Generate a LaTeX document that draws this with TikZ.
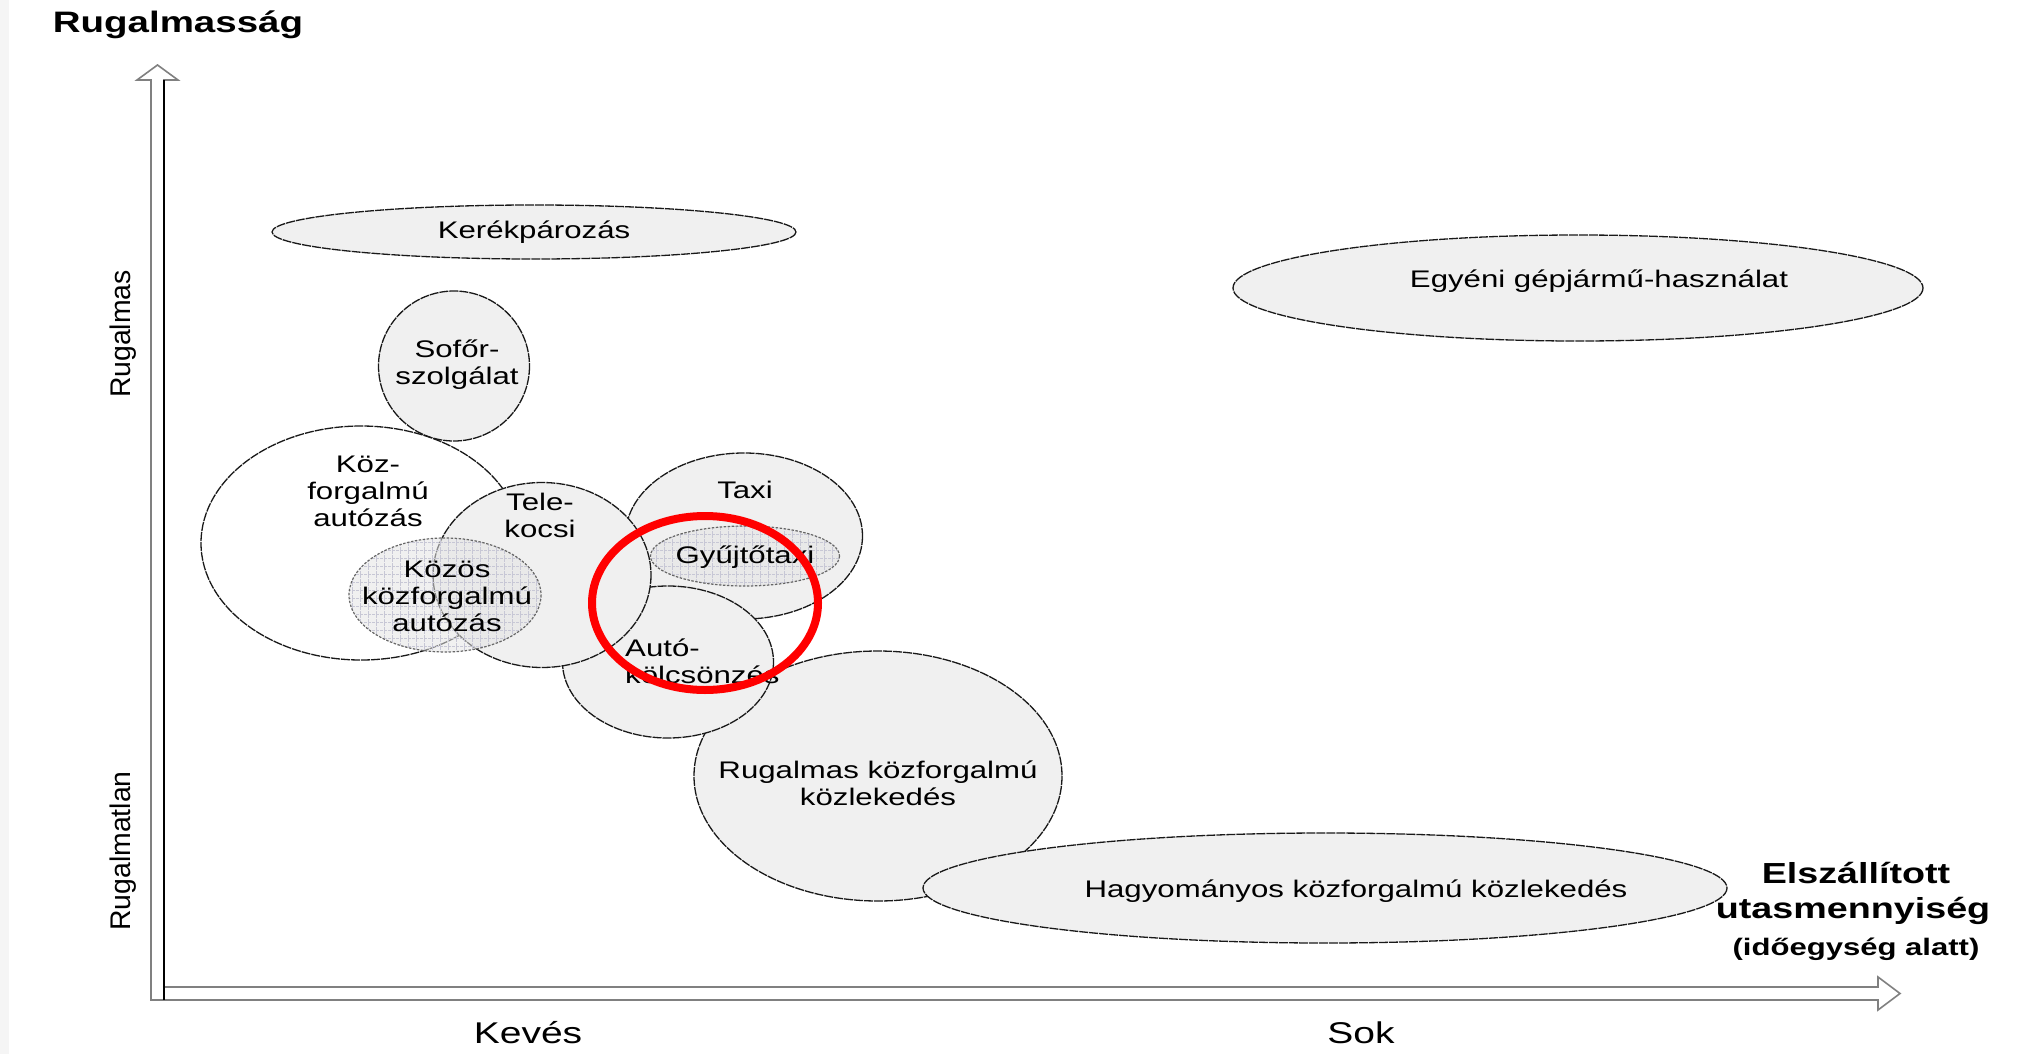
\documentclass[tikz,border=0pt]{standalone}
\usepackage{fontspec}
\setmainfont{Liberation Sans}[FakeStretch=1.3]
\newfontfamily\plainsans{Liberation Sans}
\usetikzlibrary{patterns.meta}
\begin{document}
\begin{tikzpicture}[x=1pt,y=-1pt,line join=round,
  bubble/.style={fill=black!6,draw=black!90,line width=1.3pt,dash pattern=on 9pt off 1pt},
  openbubble/.style={bubble,fill=white},
  gridbubble/.style={draw=black!60,line width=1.2pt,dash pattern=on 2.5pt off 1.5pt,
    preaction={fill=black!10,fill opacity=.55},
    pattern={Hatch[angle=0,distance=8pt,line width=.5pt]},pattern color=blue!25!black!22},
  ring/.style={draw=red,line width=8pt},
  lbl/.style={font=\fontsize{24}{27}\selectfont,align=center,inner sep=0pt},
  axislbl/.style={font=\fontsize{30}{34}\selectfont,anchor=base},
  sidelbl/.style={font=\plainsans\fontsize{28.4}{32}\selectfont,rotate=90,anchor=base},
  headlbl/.style={font=\bfseries\fontsize{29}{34}\selectfont,anchor=base},
  blockarrow/.style={fill=white,draw=black!50,line width=1.6pt,line join=miter}]
  \useasboundingbox (0,0) rectangle (2042,1054);
  \fill[black!4] (0,0) rectangle (9,1054);
  % axes: two hollow block arrows
  \draw[blockarrow] (151,987)--(1878,987)--(1878,977)--(1900,993.5)--(1878,1010)
    --(1878,1000)--(151,1000)--cycle;
  \draw[blockarrow] (151,1000)--(151,80)--(137,80)--(157.5,65)--(178,80)--(164,80)
    --(164,1000)--cycle;
  \draw[black,line width=2pt] (164,80)--(164,1000);
  \node[headlbl,font=\bfseries\fontsize{29.6}{34}\selectfont] (rugalmassag) at (178,33) {Rugalmasság};
  \node[sidelbl] (rugalmas) at (130,334) {Rugalmas};
  \node[sidelbl] (rugalmatlan) at (130,851) {Rugalmatlan};
  \node[axislbl] (keves) at (528,1043) {Kevés};
  \node[axislbl] (sok) at (1361,1043) {Sok};
  \node[headlbl] (elszall) at (1856,883) {Elszállított};
  \node[headlbl] (utas) at (1853,918) {utasmennyiség};
  \node[headlbl,font=\bfseries\fontsize{23.9}{28}\selectfont] (idoegys) at (1856,955) {(időegység alatt)};
  % bubbles, back to front
  \path[bubble] (534,232) ellipse[x radius=262,y radius=27];
  \path[bubble] (1578,288) ellipse[x radius=345,y radius=53];
  \path[bubble] (454,366) ellipse[x radius=75.5,y radius=75];
  \path[openbubble] (361,543) ellipse[x radius=160,y radius=117];
  \path[bubble] (878,776) ellipse[x radius=184,y radius=125];
  \path[bubble] (744,536) ellipse[x radius=118.5,y radius=83];
  \path[bubble] (668,662) ellipse[x radius=105.5,y radius=76];
  \path[bubble] (542,575) ellipse[x radius=109,y radius=92.5];
  \path[gridbubble] (445,595) ellipse[x radius=96,y radius=57];
  \path[gridbubble] (745,556) ellipse[x radius=94.5,y radius=30];
  \path[bubble] (1325,888) ellipse[x radius=402,y radius=55];
  % labels
  \node[lbl] (kerekpar) at (534,232) {Kerékpározás};
  \node[lbl] (egyeni) at (1599,281) {Egyéni gépjármű-használat};
  \node[lbl] (sofor) at (457,365) {Sofőr-\\szolgálat};
  \node[lbl] (kozforg) at (368,491) {Köz-\\forgalmú\\autózás};
  \node[lbl] (tele) at (540,515) {Tele-\\kocsi};
  \node[lbl] (kozos) at (447,596) {Közös\\közforgalmú\\autózás};
  \node[lbl] (taxi) at (745,490) {Taxi};
  \node[lbl] (gyujto) at (745,557) {Gyűjtőtaxi};
  \node[lbl,align=left,anchor=west] (auto) at (625,661) {Autó-\\kölcsönzés};
  \node[lbl] (rugkoz) at (878,783) {Rugalmas közforgalmú\\közlekedés};
  \node[lbl] (hagy) at (1356,891) {Hagyományos közforgalmú közlekedés};
  % red mark
  \draw[ring] (705,603) ellipse[x radius=113,y radius=87];
\end{tikzpicture}
\end{document}
